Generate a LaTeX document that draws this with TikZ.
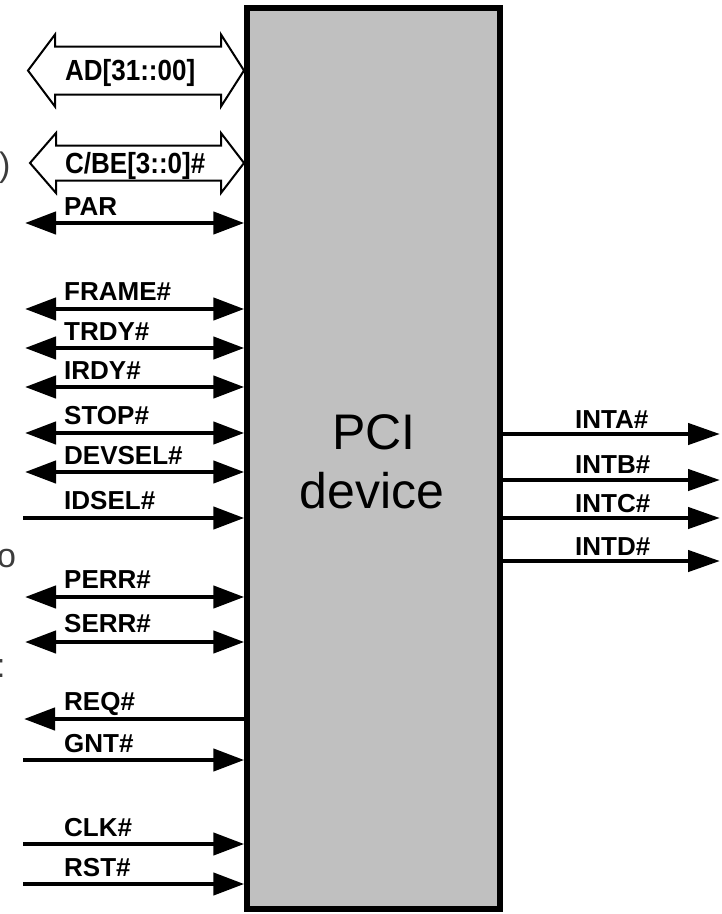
\documentclass[tikz,border=0pt]{standalone}
\usepackage{fontspec}
\setmainfont{Liberation Sans}
\usetikzlibrary{arrows.meta}
\definecolor{boxgray}{HTML}{C0C0C0}
\definecolor{straygray}{HTML}{3C3C3C}
\begin{document}
\begin{tikzpicture}[x=1pt,y=-1pt,
  sig/.style={line width=4.5pt},
  bidir/.style={sig,{Triangle[length=31pt,width=22pt]}-{Triangle[length=31pt,width=22pt]}},
  intip/.style={sig,-{Triangle[length=31pt,width=22pt]}},
  outtip/.style={sig,{Triangle[length=31pt,width=22pt]}-},
  rtip/.style={sig,-{Triangle[length=32pt,width=21pt]}},
  lab/.style={font=\fontsize{26}{30}\selectfont\bfseries, inner sep=0pt, anchor=base west},
  buslab/.style={font=\fontsize{26}{30}\selectfont\bfseries, inner sep=0pt, anchor=base west},
  bus/.style={line width=2pt, fill=white, line join=miter},
  stray/.style={font=\fontsize{34}{40}\selectfont, text=straygray, inner sep=0pt, anchor=base west},
  big/.style={font=\fontsize{50}{59}\selectfont, inner sep=0pt, anchor=base}]
\useasboundingbox (0,0) rectangle (722,914);
\clip (0,0) rectangle (722,914);

% device box
\node[draw, line width=5.5pt, fill=boxgray, minimum width=253pt, minimum height=901pt, inner sep=0pt] (box) at (373.5,458.5) {};
\node[big] (pci) at (374,449) {PCI};
\node[big] (dev) at (372,508) {device};

% cut-off text at the left edge (cut off in the reference too)
\node[stray] (s1) at (-1,176) {)};
\node[stray] (s2) at (-3,567) {o};
\node[stray] (s3) at (-4,677) {:};

% buses
\draw[bus] (28,70.5) -- (55,34.5) -- (55,46.5) -- (221,46.5) -- (221,34.5) -- (244,70.5)
  -- (221,106.5) -- (221,94.5) -- (55,94.5) -- (55,106.5) -- cycle;
\node[buslab] (lAD) at (65,80) {\scalebox{1}[1.12]{AD[31::00]}};
\draw[bus] (30,163) -- (56,133) -- (56,145.5) -- (221,145.5) -- (221,133) -- (244,163)
  -- (221,193) -- (221,180.5) -- (56,180.5) -- (56,193) -- cycle;
\node[buslab] (lCBE) at (65,173) {\scalebox{1}[1.12]{C/BE[3::0]\#}};

% left signals
\coordinate (cPAR) at (25,223);
\coordinate (cFRAME) at (25,309);
\coordinate (cTRDY) at (25,348);
\coordinate (cIRDY) at (25,387);
\coordinate (cSTOP) at (25,433);
\coordinate (cDEVSEL) at (25,472);
\coordinate (cIDSEL) at (23,518);
\coordinate (cPERR) at (25,597);
\coordinate (cSERR) at (25,642);
\coordinate (cREQ) at (24,719);
\coordinate (cGNT) at (23,760);
\coordinate (cCLK) at (23,844);
\coordinate (cRST) at (23,884);

\draw[bidir] (cPAR) -- (box.west |- cPAR);
\draw[bidir] (cFRAME) -- (box.west |- cFRAME);
\draw[bidir] (cTRDY) -- (box.west |- cTRDY);
\draw[bidir] (cIRDY) -- (box.west |- cIRDY);
\draw[bidir] (cSTOP) -- (box.west |- cSTOP);
\draw[bidir] (cDEVSEL) -- (box.west |- cDEVSEL);
\draw[intip] (cIDSEL) -- (box.west |- cIDSEL);
\draw[bidir] (cPERR) -- (box.west |- cPERR);
\draw[bidir] (cSERR) -- (box.west |- cSERR);
\draw[outtip] (cREQ) -- (box.west |- cREQ);
\draw[intip] (cGNT) -- (box.west |- cGNT);
\draw[intip] (cCLK) -- (box.west |- cCLK);
\draw[intip] (cRST) -- (box.west |- cRST);

\node[lab] (lPAR) at (64,215) {PAR};
\node[lab] (lFRAME) at (64,300) {FRAME\#};
\node[lab] (lTRDY) at (64,340) {TRDY\#};
\node[lab] (lIRDY) at (64,379) {IRDY\#};
\node[lab] (lSTOP) at (64,424) {STOP\#};
\node[lab] (lDEVSEL) at (64,464) {DEVSEL\#};
\node[lab] (lIDSEL) at (64,509) {IDSEL\#};
\node[lab] (lPERR) at (64,588) {PERR\#};
\node[lab] (lSERR) at (64,632) {SERR\#};
\node[lab] (lREQ) at (64,710) {REQ\#};
\node[lab] (lGNT) at (64,752) {GNT\#};
\node[lab] (lCLK) at (64,836) {CLK\#};
\node[lab] (lRST) at (64,876) {RST\#};

% right signals
\coordinate (cINTA) at (720,434);
\coordinate (cINTB) at (720,480);
\coordinate (cINTC) at (720,518);
\coordinate (cINTD) at (720,561);
\draw[rtip] (box.east |- cINTA) -- (cINTA);
\draw[rtip] (box.east |- cINTB) -- (cINTB);
\draw[rtip] (box.east |- cINTC) -- (cINTC);
\draw[rtip] (box.east |- cINTD) -- (cINTD);
\node[lab] (lINTA) at (575,428) {INTA\#};
\node[lab] (lINTB) at (575,473) {INTB\#};
\node[lab] (lINTC) at (575,512) {INTC\#};
\node[lab] (lINTD) at (575,555) {INTD\#};
\end{tikzpicture}
\end{document}
